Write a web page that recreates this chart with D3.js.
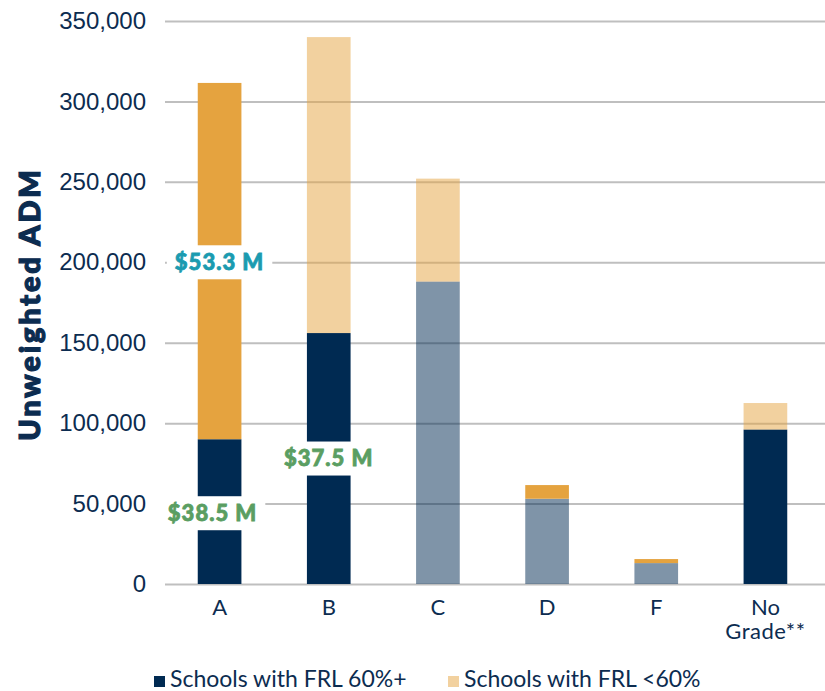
<!DOCTYPE html>
<html>
<head>
<meta charset="utf-8">
<script src="https://cdn.jsdelivr.net/npm/d3@7"></script>
<style>
  body { margin: 0; background: #fff; }
  svg { display: block; font-family: Lato, "Noto Sans", sans-serif; }
</style>
</head>
<body>
<svg id="chart"></svg>
<script>
// data
const grades = ["A", "B", "C", "D", "F", "No Grade**"];
const frlHigh = [90000, 156000, 188000, 53000, 13000, 96000];   // Schools with FRL 60%+
const frlLow = [221500, 184000, 64000, 8500, 2500, 16500];     // Schools with FRL <60%
const yTicks = [0, 50000, 100000, 150000, 200000, 250000, 300000, 350000];
const seriesNames = ["Schools with FRL 60%+", "Schools with FRL <60%"];

// which segments are shown at full strength
const strongHigh = ["A", "B", "No Grade**"];
const strongLow = ["A", "D", "F"];

// dollar callouts
const calloutText = ["$53.3 M", "$38.5 M", "$37.5 M"];
const calloutGrade = ["A", "A", "B"];
const calloutValue = [200000, 44000, 78000];

const navy = "#002a52", orange = "#e5a33f", ink = "#0c2c50";
const calloutColor = ["#1b9bb0", "#5a9e62", "#5a9e62"];

var width = 825, height = 691;
var margin = {top: 21, right: 5, bottom: 107, left: 165};

var svg = d3.select("#chart")
  .attr("width", width)
  .attr("height", height);

var x = d3.scaleBand()
  .domain(grades)
  .range([margin.left, width - margin.right])
  .paddingInner(0.6)
  .paddingOuter(0.3);

var y = d3.scaleLinear()
  .domain([0, 350000])
  .range([height - margin.bottom, margin.top]);

// gridlines + y labels
var yAxis = svg.append("g")
  .attr("transform", "translate(" + margin.left + ",0)")
  .call(d3.axisLeft(y).tickValues(yTicks).tickFormat(d3.format(",")).tickSize(-(width - margin.left)).tickPadding(19));
yAxis.select(".domain").remove();
yAxis.selectAll(".tick line").attr("stroke", "#bfbfbf").attr("stroke-width", 2);
yAxis.selectAll(".tick text")
  .attr("fill", ink)
  .style("font-size", "24px")
  .style("font-weight", 400);

// stacked bars
var rows = grades.map(function(g, i) { return {grade: g, high: frlHigh[i], low: frlLow[i]}; });
var stack = d3.stack().keys(["high", "low"])(rows);

svg.append("g").selectAll("g")
  .data(stack)
  .join("g")
  .attr("fill", function(s) { return s.key === "high" ? navy : orange; })
  .selectAll("rect")
  .data(function(s) { return s.map(function(d) { d.key = s.key; return d; }); })
  .join("rect")
  .attr("x", function(d) { return x(d.data.grade); })
  .attr("width", x.bandwidth())
  .attr("y", function(d) { return y(d[1]); })
  .attr("height", function(d) { return y(d[0]) - y(d[1]); })
  .attr("fill-opacity", function(d) {
    var strong = d.key === "high" ? strongHigh : strongLow;
    return strong.indexOf(d.data.grade) >= 0 ? 1 : 0.5;
  });

// x labels
var xl = svg.append("g").selectAll("text")
  .data(grades)
  .join("text")
  .attr("text-anchor", "middle")
  .attr("fill", ink)
  .style("font-size", "22px")
  .style("font-weight", 400)
  .attr("transform", function(d) { return "translate(" + (x(d) + x.bandwidth() / 2) + ",615)"; });
xl.selectAll("tspan")
  .data(function(d) { return d.split(" "); })
  .join("tspan")
  .attr("x", 0)
  .attr("dy", function(d, i) { return i === 0 ? 0 : 24; })
  .style("letter-spacing", function(d, i) { return i === 0 ? null : "0.5px"; })
  .text(function(d) { return d; });

// callouts with white boxes (the lower A callout sits a little left)
calloutText.forEach(function(t, i) {
  var shift = i === 1 ? -7 : 0;
  var g = svg.append("g")
    .attr("transform", "translate(" + (x(calloutGrade[i]) + x.bandwidth() / 2 + shift) + "," + y(calloutValue[i]) + ")");
  var box = g.append("rect").attr("fill", "#fff");
  var txt = g.append("text")
    .attr("text-anchor", "middle")
    .attr("dy", "0.35em")
    .attr("fill", calloutColor[i])
    .attr("stroke", calloutColor[i])
    .attr("stroke-width", 0.8)
    .style("font-size", "22px")
    .style("font-weight", 900)
    .style("letter-spacing", "1px")
    .text(t);
  var bb = txt.node().getBBox();
  box.attr("x", bb.x - 8).attr("y", -17).attr("width", bb.width + 16).attr("height", 34);
});

// y axis title
svg.append("text")
  .attr("transform", "translate(40," + (margin.top + 283) + ") rotate(-90)")
  .attr("text-anchor", "middle")
  .attr("fill", ink)
  .attr("stroke", ink)
  .attr("stroke-width", 1.2)
  .style("font-size", "29px")
  .style("font-weight", 900)
  .style("letter-spacing", "2.8px")
  .text("Unweighted ADM");

// legend
var legendX = [154, 448];
var legendColor = [navy, "#f2d19f"];
seriesNames.forEach(function(n, i) {
  svg.append("rect")
    .attr("x", legendX[i]).attr("y", 676)
    .attr("width", 11).attr("height", 11)
    .attr("fill", legendColor[i]);
  svg.append("text")
    .attr("x", legendX[i] + 16).attr("y", 687)
    .attr("fill", ink)
    .style("font-size", "23px")
    .style("font-weight", 400)
    .text(n);
});
</script>
</body>
</html>
